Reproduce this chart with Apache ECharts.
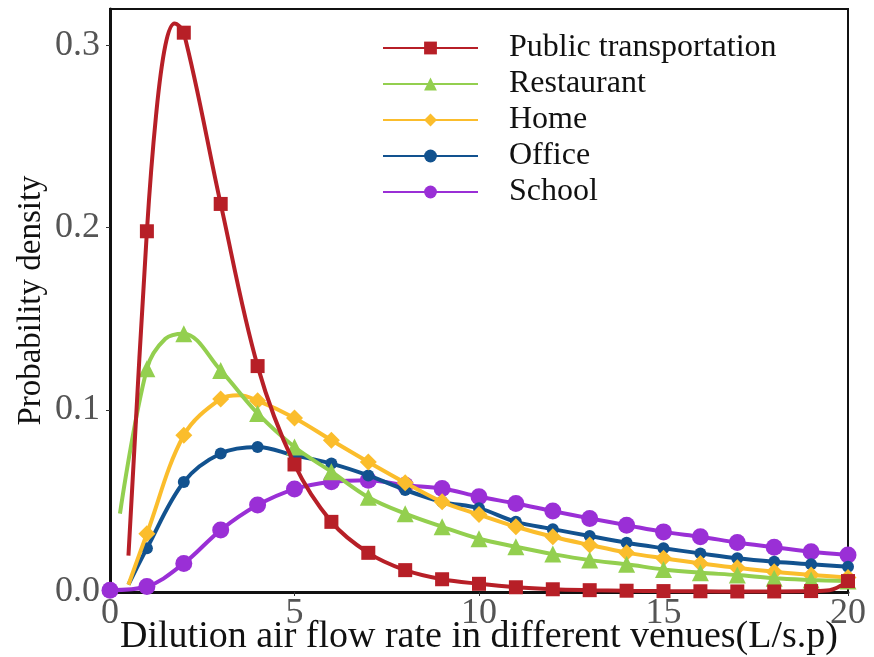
<!DOCTYPE html>
<html>
<head>
<meta charset="utf-8">
<script src="https://cdn.jsdelivr.net/npm/echarts@6/dist/echarts.min.js"></script>
<style>
  html, body { margin: 0; padding: 0; background: #fff; }
  #chart { width: 874px; height: 657px; }
</style>
</head>
<body>
<div id="chart"></div>
<script>
// venues and their line colours / markers
const venues = ['Public transportation', 'Restaurant', 'Home', 'Office', 'School'];

// [flow rate, density]
const publicTransport = [
  [0.5, 0.020], [1, 0.198], [1.25, 0.262], [1.5, 0.300], [1.75, 0.312], [2, 0.307],
  [3, 0.213], [4, 0.124], [5, 0.070], [6, 0.0385], [7, 0.0215], [8, 0.012],
  [9, 0.007], [10, 0.0045], [11, 0.0026], [12, 0.0015], [13, 0.001], [14, 0.0007],
  [15, 0.0005], [16, 0.0004], [17, 0.0003], [18, 0.0003], [19, 0.0005], [19.5, 0.001], [20, 0.006]
];
const restaurant = [
  [0.27, 0.043], [1, 0.1226], [1.5, 0.139], [2, 0.1418], [3, 0.1216], [4, 0.098],
  [5, 0.0796], [6, 0.066], [7, 0.052], [8, 0.043], [9, 0.0358], [10, 0.0292],
  [11, 0.0248], [12, 0.0208], [13, 0.0175], [14, 0.0152], [15, 0.0124], [16, 0.0106],
  [17, 0.0093], [18, 0.0075], [19, 0.0066], [20, 0.006]
];
const home = [
  [0.5, 0.004], [1, 0.032], [2, 0.086], [3, 0.106], [3.5, 0.108], [4, 0.105],
  [5, 0.0955], [6, 0.0833], [7, 0.0714], [8, 0.060], [9, 0.0495], [10, 0.0425],
  [11, 0.0358], [12, 0.0303], [13, 0.0258], [14, 0.0216], [15, 0.0185], [16, 0.0157],
  [17, 0.0133], [18, 0.0111], [19, 0.0093], [20, 0.008]
];
const office = [
  [0.5, 0.004], [1, 0.024], [2, 0.0604], [3, 0.076], [4, 0.0796], [5, 0.075],
  [6, 0.0705], [7, 0.064], [8, 0.056], [9, 0.0495], [10, 0.046], [11, 0.0385],
  [12, 0.0345], [13, 0.0307], [14, 0.027], [15, 0.024], [16, 0.0212], [17, 0.0185],
  [18, 0.0166], [19, 0.0152], [20, 0.0139]
];
const school = [
  [0, 0.001], [1, 0.003], [2, 0.0157], [3, 0.034], [4, 0.0477], [5, 0.0565],
  [6, 0.0605], [7, 0.0614], [8, 0.0586], [9, 0.0568], [10, 0.0523], [11, 0.0486],
  [12, 0.0444], [13, 0.0404], [14, 0.0367], [15, 0.033], [16, 0.0303], [17, 0.0272],
  [18, 0.0245], [19, 0.0221], [20, 0.0203]
];

const xTicks = [0, 5, 10, 15, 20];
const yTicks = [0, 0.1, 0.2, 0.3];

const colors = ['#b71f27', '#93cf4f', '#fbbd2c', '#12528f', '#9a2fd6'];
const symbols = ['rect', 'triangle', 'diamond', 'circle', 'circle'];
const sizes = [14, 17, 17, 12, 17];
const seriesData = [publicTransport, restaurant, home, office, school];

const chart = echarts.init(document.getElementById('chart'));
const serif = '"Liberation Serif", "DejaVu Serif", serif';

const option = {
  animation: false,
  backgroundColor: '#fff',
  grid: {
    left: 110, right: 26, top: 9, bottom: 65,
    outerBoundsMode: 'none',
    show: true, borderColor: '#111', borderWidth: 2
  },
  legend: {
    left: 377, top: 27, orient: 'vertical',
    itemWidth: 95, itemHeight: 16, itemGap: 4,
    textStyle: { fontFamily: serif, fontSize: 32, color: '#111', lineHeight: 31, padding: [0, 0, 0, 26] },
    data: venues
  },
  xAxis: {
    type: 'value', min: 0, max: 20, interval: 5,
    name: 'Dilution air flow rate in different venues(L/s.p)',
    nameLocation: 'middle', nameGap: 26, nameMoveOverlap: false,
    nameTextStyle: { fontFamily: serif, fontSize: 38, color: '#111' },
    axisLine: { lineStyle: { color: '#111', width: 3 } },
    axisTick: { show: true, length: 4, lineStyle: { color: '#333' } },
    axisLabel: { fontFamily: serif, fontSize: 36, color: '#555', margin: 4,
      formatter: v => xTicks.includes(v) ? String(v) : '' },
    splitLine: { show: false }
  },
  yAxis: {
    type: 'value', min: 0, max: 0.32, interval: 0.1,
    name: 'Probability density',
    nameLocation: 'middle', nameGap: 62, nameMoveOverlap: false,
    nameTextStyle: { fontFamily: serif, fontSize: 33, color: '#111' },
    axisLine: { show: true, lineStyle: { color: '#111', width: 3 } },
    axisTick: { show: true, length: 4, lineStyle: { color: '#333' } },
    axisLabel: { fontFamily: serif, fontSize: 36, color: '#555', margin: 10, showMaxLabel: false,
      formatter: v => yTicks.some(t => Math.abs(t - v) < 1e-9) ? v.toFixed(1) : '' },
    splitLine: { show: false }
  },
  series: venues.map((name, i) => ({
    name,
    type: 'line',
    data: seriesData[i],
    smooth: 0.35,
    color: colors[i],
    lineStyle: { width: 4, color: colors[i] },
    symbol: symbols[i],
    symbolSize: v => Number.isInteger(v[0]) ? sizes[i] : 0,
    showAllSymbol: true,
    itemStyle: { color: colors[i] },
    z: 10 - i
  }))
};

chart.setOption(option);
</script>
</body>
</html>
